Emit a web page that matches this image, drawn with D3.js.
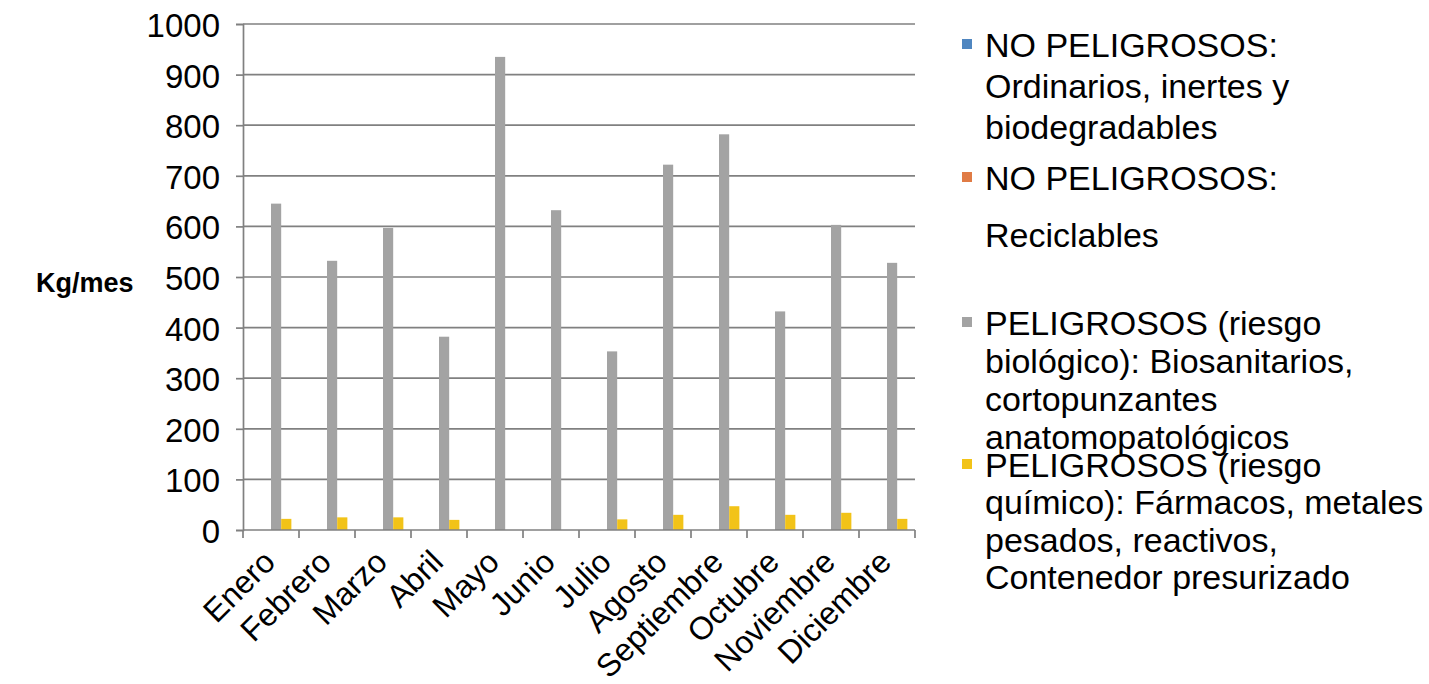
<!DOCTYPE html>
<html>
<head>
<meta charset="utf-8">
<script src="https://cdn.jsdelivr.net/npm/d3@7"></script>
<style>
  html, body { margin: 0; padding: 0; background: #ffffff; }
  svg { display: block; font-family: "Liberation Sans", Arial, sans-serif; }
</style>
</head>
<body>
<svg id="chart" width="1429" height="684"></svg>
<script>
// ---------- DATA ----------
const months = ["Enero","Febrero","Marzo","Abril","Mayo","Junio","Julio","Agosto","Septiembre","Octubre","Noviembre","Diciembre"];
const seriesKeys = ["noPelOrd","noPelRec","pelBio","pelQuim"];
const noPelOrd = [0,0,0,0,0,0,0,0,0,0,0,0];
const noPelRec = [0,0,0,0,0,0,0,0,0,0,0,0];
const pelBio   = [645,532,597,382,935,632,353,722,782,432,603,528];
const pelQuim  = [22,25,25,20,0,0,21,30,47,30,34,22];
const yTicks = [0,100,200,300,400,500,600,700,800,900,1000];
const yTitle = "Kg/mes";
const legendLines = [
  ["NO PELIGROSOS:", "Ordinarios, inertes y", "biodegradables"],
  ["NO PELIGROSOS:", "Reciclables"],
  ["PELIGROSOS (riesgo", "biológico): Biosanitarios,", "cortopunzantes", "anatomopatológicos"],
  ["PELIGROSOS (riesgo", "químico): Fármacos, metales", "pesados, reactivos,", "Contenedor presurizado"]
];
const seriesValues = { noPelOrd, noPelRec, pelBio, pelQuim };

// ---------- STYLE / LAYOUT ----------
const colors = { noPelOrd: "#4f86c0", noPelRec: "#e07b45", pelBio: "#a3a3a3", pelQuim: "#f2c318" };
const plot = { left: 243, right: 915, top: 24, bottom: 530 };
const axisFont = 33;
const catFont = 32;
const legendFont = 34;

const svg = d3.select("#chart");

const y = d3.scaleLinear().domain([0, 1000]).range([plot.bottom, plot.top]);
const x0 = d3.scaleBand().domain(months).range([plot.left, plot.right])
  .paddingInner(0.2727).paddingOuter(0.1364);
const x1 = d3.scaleBand().domain(seriesKeys).range([0, x0.bandwidth()]);

// gridlines
svg.append("g")
  .selectAll("line").data(yTicks.filter(t => t > 0)).join("line")
  .attr("x1", plot.left).attr("x2", plot.right)
  .attr("y1", d => y(d)).attr("y2", d => y(d))
  .attr("stroke", "#808080").attr("stroke-width", 1.7);

// bars
const rows = months.map((m, i) => ({ m, vals: seriesKeys.map(k => ({ k, v: seriesValues[k][i] })) }));
svg.append("g").selectAll("g").data(rows).join("g")
  .attr("transform", d => `translate(${x0(d.m)},0)`)
  .selectAll("rect").data(d => d.vals.filter(e => e.v > 0)).join("rect")
  .attr("x", d => x1(d.k))
  .attr("width", x1.bandwidth())
  .attr("y", d => y(d.v))
  .attr("height", d => y(0) - y(d.v))
  .attr("fill", d => colors[d.k]);

// y axis
const yAxis = svg.append("g").attr("transform", `translate(${plot.left},0)`)
  .call(d3.axisLeft(y).tickValues(yTicks).tickSize(7).tickPadding(16).tickFormat(d3.format("d")));
yAxis.select(".domain").attr("stroke", "#808080").attr("stroke-width", 1.7);
yAxis.selectAll(".tick line").attr("stroke", "#808080").attr("stroke-width", 1.7);
yAxis.selectAll(".tick text").attr("font-size", axisFont).attr("fill", "#000")
  .attr("font-family", "'Liberation Sans', Arial, sans-serif").attr("dy", "0.38em");

// x axis line
svg.append("line")
  .attr("x1", plot.left).attr("x2", plot.right)
  .attr("y1", y(0)).attr("y2", y(0))
  .attr("stroke", "#808080").attr("stroke-width", 1.7);
const half = (x0.step() - x0.bandwidth()) / 2;
const bounds = months.map(m => x0(m) - half).concat([x0(months[months.length - 1]) + x0.bandwidth() + half]);
svg.append("g").selectAll("line").data(bounds).join("line")
  .attr("x1", d => d).attr("x2", d => d)
  .attr("y1", y(0)).attr("y2", y(0) + 8)
  .attr("stroke", "#808080").attr("stroke-width", 1.7);

// x labels
svg.append("g").selectAll("text").data(months).join("text")
  .attr("transform", m => `translate(${x0(m) + x0.bandwidth() / 2 - 11},${y(0) + 17}) rotate(-45)`)
  .attr("text-anchor", "end")
  .attr("dy", "0.75em")
  .attr("font-size", catFont)
  .attr("fill", "#000")
  .text(m => m);

// y title
svg.append("text")
  .attr("x", 36).attr("y", 283)
  .attr("dy", "0.35em")
  .attr("font-size", 27).attr("font-weight", "bold").attr("fill", "#000")
  .text(yTitle);

// legend
const legendStart = [45, 178, 323, 465];
const legendLineGap = [41, 57, 38, 37.5];
const lg = svg.append("g");
legendLines.forEach((lines, i) => {
  const g = lg.append("g");
  g.append("rect").attr("x", 962).attr("y", legendStart[i] - 6).attr("width", 10).attr("height", 10)
    .attr("fill", colors[seriesKeys[i]]);
  g.selectAll("text").data(lines).join("text")
    .attr("x", 985)
    .attr("y", (d, j) => legendStart[i] + j * legendLineGap[i])
    .attr("dy", "0.35em")
    .attr("font-size", legendFont).attr("fill", "#000")
    .text(d => d);
});
</script>
</body>
</html>
